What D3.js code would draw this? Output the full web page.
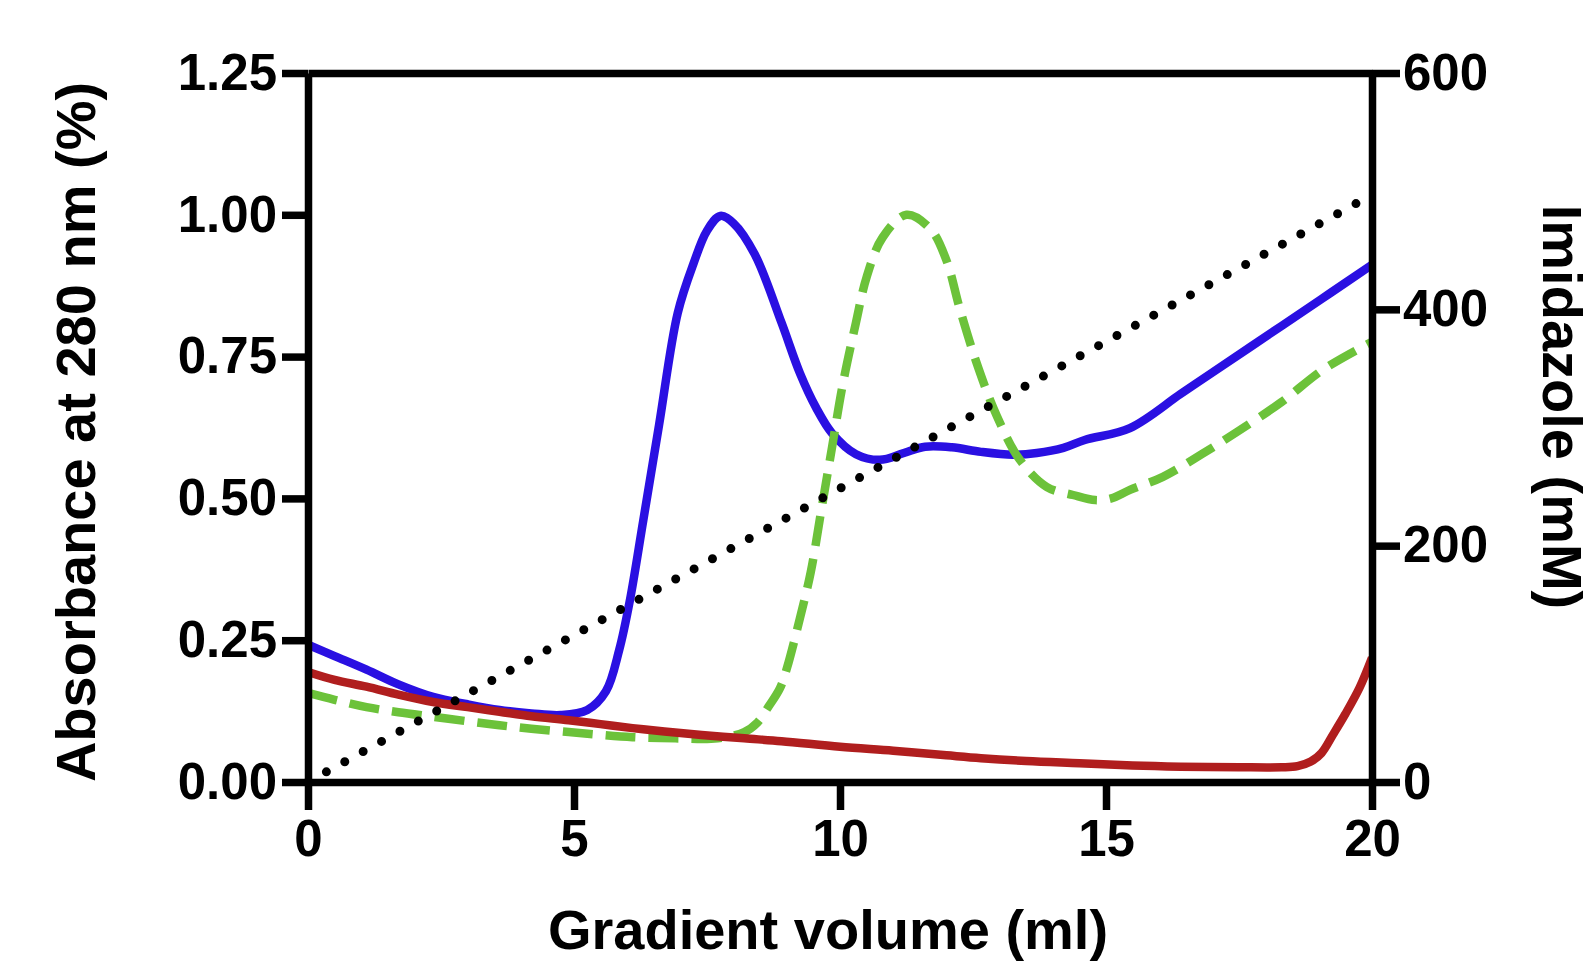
<!DOCTYPE html>
<html>
<head>
<meta charset="utf-8">
<script src="https://cdn.jsdelivr.net/npm/d3@7"></script>
<style>
  body { margin: 0; background: #fff; }
  svg text { font-family: "Liberation Sans", Arial, sans-serif; font-weight: bold; fill: #000; }
</style>
</head>
<body>
<div id="grafico"></div>
<script>
// Datos (volumen en ml, absorbancia relativa)
var blueVol = [0, 0.5, 1.1, 1.7, 2.35, 3.0, 3.6, 4.2, 4.75, 5.25, 5.6, 5.85, 6.05, 6.3, 6.6, 6.95, 7.25, 7.5, 7.75, 8.0, 8.4, 8.9, 9.25, 9.55, 9.85, 10.3, 10.75, 11.2, 11.6, 12.1, 12.65, 13.25, 13.7, 14.2, 14.6, 15.45, 16.4, 17.0, 18.3, 19.2, 20]
var blueAbs = [0.242, 0.222, 0.198, 0.172, 0.15, 0.137, 0.127, 0.121, 0.118, 0.127, 0.16, 0.233, 0.32, 0.46, 0.63, 0.827, 0.915, 0.972, 0.998, 0.985, 0.93, 0.81, 0.72, 0.66, 0.615, 0.578, 0.568, 0.58, 0.591, 0.59, 0.582, 0.577, 0.58, 0.589, 0.603, 0.624, 0.684, 0.722, 0.804, 0.861, 0.912]

var greenVol = [0, 0.5, 1.1, 1.7, 2.35, 3.0, 3.6, 4.2, 4.9, 5.5, 6.1, 6.9, 7.7, 8.2, 8.45, 8.65, 8.87, 9.0, 9.25, 9.45, 9.65, 9.85, 10.05, 10.3, 10.5, 10.8, 11.25, 11.7, 12.0, 12.25, 12.6, 12.95, 13.38, 13.89, 14.38, 14.8, 15.1, 15.45, 16.07, 16.8, 17.46, 18.3, 19.08, 20]
var greenAbs = [0.157, 0.145, 0.132, 0.123, 0.115, 0.107, 0.10, 0.094, 0.088, 0.083, 0.079, 0.077, 0.077, 0.088, 0.105, 0.132, 0.165, 0.2, 0.29, 0.37, 0.48, 0.59, 0.70, 0.81, 0.89, 0.96, 1.0, 0.975, 0.92, 0.835, 0.73, 0.645, 0.568, 0.52, 0.506, 0.497, 0.5, 0.515, 0.538, 0.578, 0.617, 0.67, 0.727, 0.776]

var redVol = [0, 0.5, 1.1, 1.7, 2.35, 3.0, 3.6, 4.2, 4.9, 5.5, 6.1, 6.7, 7.4, 8.2, 8.9, 10, 11, 12, 12.65, 13.5, 14.5, 15.5, 16.4, 17.5, 18.3, 18.6, 18.85, 19.05, 19.27, 19.5, 19.77, 20]
var redAbs = [0.194, 0.18, 0.168, 0.154, 0.141, 0.132, 0.124, 0.116, 0.109, 0.102, 0.095, 0.089, 0.083, 0.077, 0.072, 0.062, 0.055, 0.047, 0.042, 0.037, 0.033, 0.029, 0.027, 0.026, 0.026, 0.028, 0.036, 0.051, 0.084, 0.12, 0.167, 0.219]

// Gradiente de imidazol (eje derecho, mM)
var imidVol = [0, 20]
var imidConc = [0, 497]

var xTicks = [0, 5, 10, 15, 20]
var yTicks = [0, 0.25, 0.5, 0.75, 1.0, 1.25]
var y2Ticks = [0, 200, 400, 600]

var width = 1595
var height = 962
var margin = { top: 73, right: 223, bottom: 180, left: 308 }

var svg = d3.select("#grafico")
    .append("svg")
    .attr("width", width)
    .attr("height", height)

var x = d3.scaleLinear()
    .domain([0, 20])
    .range([margin.left, width - margin.right])

var y = d3.scaleLinear()
    .domain([0, 1.25])
    .range([height - margin.bottom, margin.top])

var y2 = d3.scaleLinear()
    .domain([0, 600])
    .range([height - margin.bottom, margin.top])

var zip = (xs, ys) => xs.map((v, i) => [v, ys[i]])

var line = d3.line()
    .x(d => x(d[0]))
    .y(d => y(d[1]))
    .curve(d3.curveCatmullRom.alpha(0.5))

var line2 = d3.line()
    .x(d => x(d[0]))
    .y(d => y2(d[1]))

// curvas
svg.append("path")
    .datum(zip(blueVol, blueAbs))
    .attr("fill", "none")
    .attr("stroke", "#2a10e2")
    .attr("stroke-width", 8.5)
    .attr("stroke-linejoin", "round")
    .attr("d", line)

svg.append("path")
    .datum(zip(greenVol, greenAbs))
    .attr("fill", "none")
    .attr("stroke", "#6cc23a")
    .attr("stroke-width", 8.5)
    .attr("stroke-dasharray", "30,13")
    .attr("d", line)

svg.append("path")
    .datum(zip(redVol, redAbs))
    .attr("fill", "none")
    .attr("stroke", "#b01e1e")
    .attr("stroke-width", 8.5)
    .attr("stroke-linejoin", "round")
    .attr("d", line)

svg.append("path")
    .datum(zip(imidVol, imidConc))
    .attr("fill", "none")
    .attr("stroke", "#000")
    .attr("stroke-width", 9)
    .attr("stroke-linecap", "round")
    .attr("stroke-dasharray", "0,21")
    .attr("d", line2)

// ejes
function estiloEje(g, size) {
    g.selectAll(".domain, line").attr("stroke", "#000").attr("stroke-width", 7.5)
    g.selectAll("text").attr("font-size", size).attr("fill", "#000")
        .attr("font-family", "Liberation Sans, Arial, sans-serif").attr("font-weight", "bold")
}

svg.append("g")
    .attr("transform", "translate(0," + margin.top + ")")
    .call(d3.axisTop(x).tickValues([]).tickSizeOuter(0))
    .call(g => estiloEje(g, 51))

svg.append("g")
    .attr("transform", "translate(" + margin.left + ",0)")
    .call(d3.axisLeft(y).tickValues(yTicks).tickFormat(d3.format(".2f")).tickSize(26).tickPadding(5).tickSizeOuter(0))
    .call(g => estiloEje(g, 51))

svg.append("g")
    .attr("transform", "translate(" + (width - margin.right) + ",0)")
    .call(d3.axisRight(y2).tickValues(y2Ticks).tickSize(28).tickPadding(3).tickSizeOuter(0))
    .call(g => estiloEje(g, 51))

svg.append("g")
    .attr("transform", "translate(0," + (height - margin.bottom) + ")")
    .call(d3.axisBottom(x).tickValues(xTicks).tickSize(28).tickPadding(10).tickSizeOuter(0))
    .call(g => estiloEje(g, 51))

// titulos
svg.append("text")
    .attr("transform", "translate(95,432) rotate(-90)")
    .attr("text-anchor", "middle")
    .attr("font-size", 56)
    .text("Absorbance at 280 nm (%)")

svg.append("text")
    .attr("transform", "translate(1543,407) rotate(90)")
    .attr("text-anchor", "middle")
    .attr("font-size", 56)
    .text("Imidazole (mM)")

svg.append("text")
    .attr("x", 828)
    .attr("y", 949)
    .attr("text-anchor", "middle")
    .attr("font-size", 56)
    .text("Gradient volume (ml)")
</script>
</body>
</html>
